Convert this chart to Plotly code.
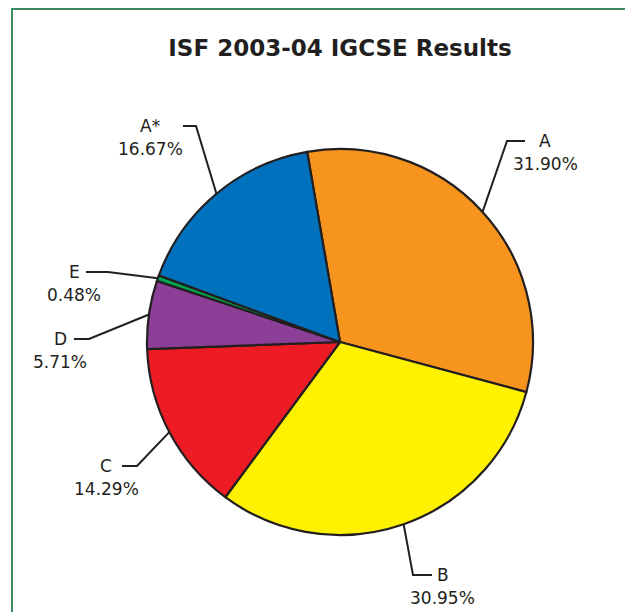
import math
import plotly.graph_objects as go

# ---- data ----
grades = ["A", "B", "C", "D", "E", "A*"]
percents = [31.90, 30.95, 14.29, 5.71, 0.48, 16.67]
pct_labels = ["31.90%", "30.95%", "14.29%", "5.71%", "0.48%", "16.67%"]
colors = ["#F7941D", "#FFF200", "#ED1C24", "#8C3F97", "#00A651", "#0071BC"]

# ---- layout (page pixels; the page body has an 8px margin) ----
OFF = 8
FW, FH = 625, 604
CX, CY, R = 340, 342, 193
ROT = -9.8
# elbow of each leader line, end of its horizontal tick, and the label's centre x
ELBOW = [(507, 141), (413, 575), (137, 466), (89, 339), (108, 272), (196, 126)]
TICK_END = [525, 432, 122, 74, 86, 183]
LABEL_X = [545, 443, 106, 60, 74, 150]
INK = "#231F20"


def px(x):
    return (x - OFF) / FW


def py(y):
    return 1 - (y - OFF) / FH


fig = go.Figure(go.Pie(
    labels=grades, values=percents, sort=False, direction="clockwise",
    rotation=ROT, textinfo="none", hoverinfo="label+percent",
    marker=dict(colors=colors, line=dict(color=INK, width=2.2)),
    domain=dict(x=[px(CX - R), px(CX + R)], y=[py(CY + R), py(CY - R)]),
    showlegend=False,
))

shapes = [dict(type="rect", xref="paper", yref="paper",
               x0=px(12), x1=px(629), y0=py(FH + OFF + 10), y1=py(9),
               line=dict(color="#3E8A63", width=2), fillcolor="rgba(0,0,0,0)")]
annotations = []
total = sum(percents)
cum = 0.0
for g, v, lab, (ex, ey), hx, lx in zip(grades, percents, pct_labels, ELBOW, TICK_END, LABEL_X):
    mid = ROT + (cum + v / 2) / total * 360
    cum += v
    a = math.radians(mid)
    sx, sy = CX + R * math.sin(a), CY - R * math.cos(a)
    shapes.append(dict(type="path", xref="paper", yref="paper",
                       path=f"M {px(sx)} {py(sy)} L {px(ex)} {py(ey)} L {px(hx)} {py(ey)}",
                       line=dict(color=INK, width=2)))
    annotations.append(dict(x=px(lx), y=py(ey), xref="paper", yref="paper",
                            text=g, showarrow=False, xanchor="center", yanchor="middle",
                            font=dict(family="DejaVu Sans", size=17, color=INK)))
    annotations.append(dict(x=px(lx), y=py(ey + 23), xref="paper", yref="paper",
                            text=lab, showarrow=False, xanchor="center", yanchor="middle",
                            font=dict(family="DejaVu Sans", size=17, color=INK)))

fig.update_layout(
    width=FW, height=FH, margin=dict(l=0, r=0, t=0, b=0),
    paper_bgcolor="white", plot_bgcolor="white",
    title=dict(text="<b>ISF 2003-04 IGCSE Results</b>", x=px(340), xanchor="center",
               y=py(48), yanchor="middle",
               font=dict(family="DejaVu Sans", size=23, color=INK)),
    shapes=shapes, annotations=annotations,
)

fig.write_html("out.html")
